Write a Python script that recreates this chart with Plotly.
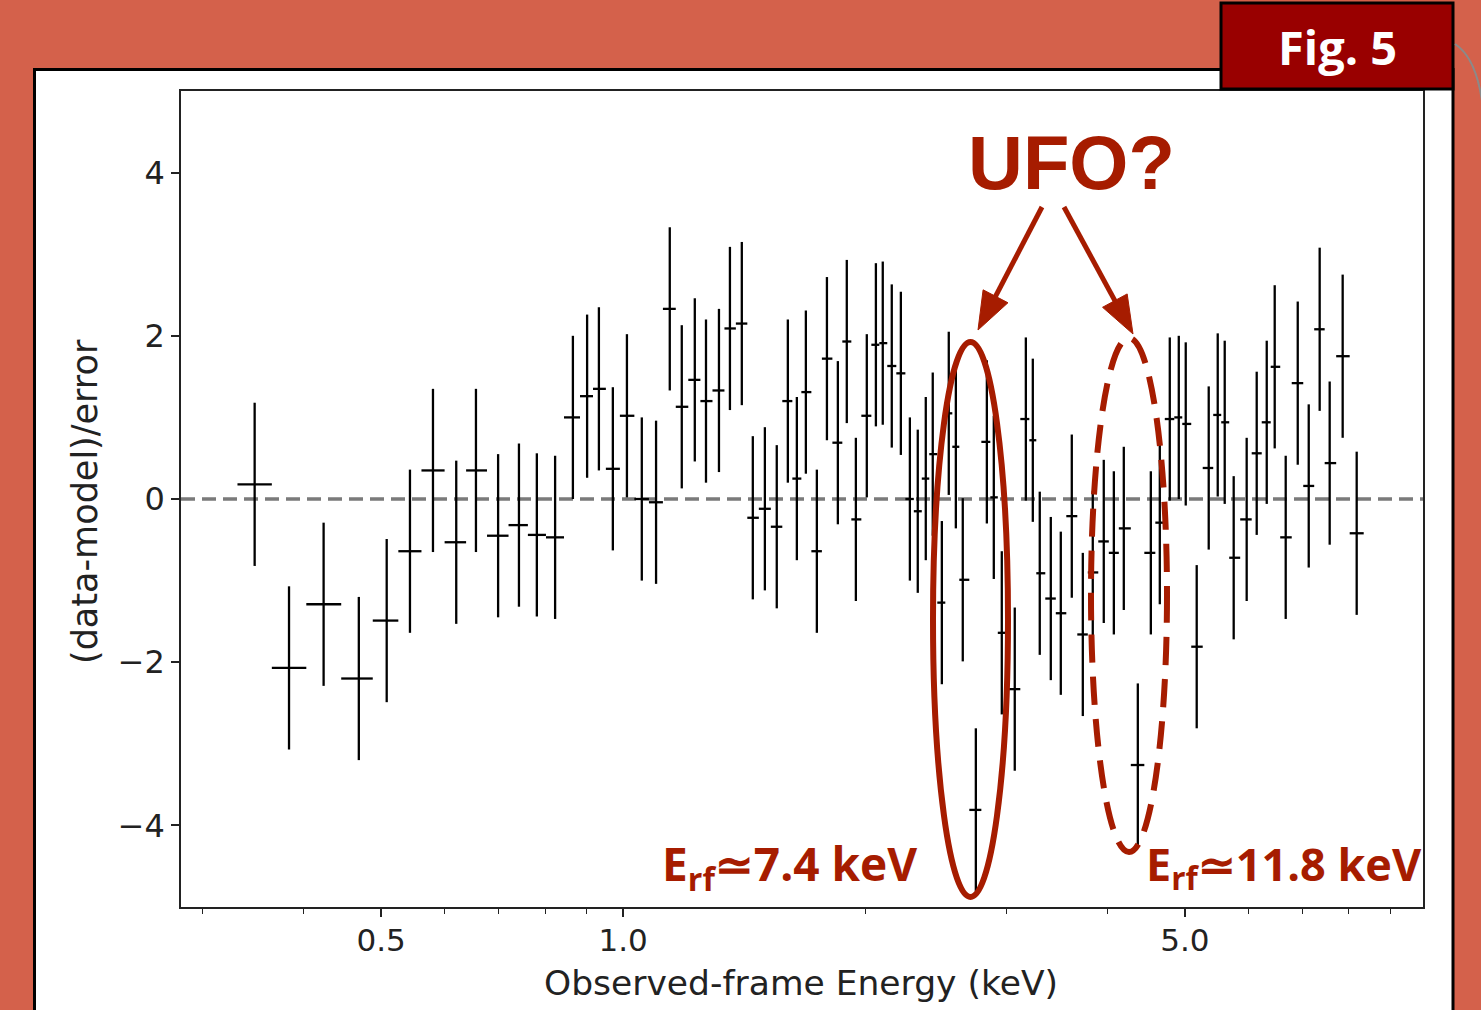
import numpy as np
import plotly.graph_objects as go

# ---- data ----
energy_keV = [0.348, 0.384, 0.424, 0.469, 0.508, 0.543, 0.580, 0.620, 0.656, 0.699,
              0.742, 0.781, 0.823, 0.866, 0.902, 0.933, 0.971, 1.011, 1.055, 1.099,
              1.143, 1.183, 1.228, 1.268, 1.316, 1.358, 1.405, 1.450, 1.501, 1.553,
              1.603, 1.645, 1.688, 1.742, 1.793, 1.850, 1.898, 1.948, 2.010, 2.063,
              2.104, 2.159, 2.216, 2.274, 2.326, 2.380, 2.428, 2.492, 2.542, 2.594,
              2.646, 2.747, 2.835, 2.892, 2.959, 3.071, 3.170, 3.234, 3.299, 3.405,
              3.504, 3.616, 3.732, 3.840, 3.963, 4.079, 4.197, 4.369, 4.535, 4.653,
              4.788, 4.913, 5.012, 5.172, 5.353, 5.493, 5.604, 5.750, 5.968, 6.142,
              6.321, 6.467, 6.674, 6.908, 7.129, 7.356, 7.570, 7.857, 8.179]

residual = [0.18, -2.07, -1.29, -2.20, -1.49, -0.64, 0.35, -0.53, 0.35, -0.45,
            -0.32, -0.44, -0.47, 1.00, 1.26, 1.35, 0.37, 1.02, 0.00, -0.04,
            2.33, 1.13, 1.46, 1.20, 1.33, 2.09, 2.15, -0.23, -0.12, -0.34,
            1.20, 0.25, 1.31, -0.64, 1.72, 0.69, 1.93, -0.25, 1.02, 1.89,
            1.91, 1.63, 1.54, 0.00, -0.15, 0.25, 0.55, -1.27, 1.05, 0.64,
            -0.99, -3.81, 0.70, 0.02, -1.64, -2.33, 0.98, 0.72, -0.91, -1.22,
            -1.40, -0.21, -1.66, -0.90, -0.52, -0.66, -0.36, -3.26, -0.66, -0.29,
            0.98, 1.00, 0.92, -1.81, 0.38, 1.03, 0.94, -0.72, -0.25, 0.56,
            0.94, 1.62, -0.47, 1.42, 0.16, 2.08, 0.44, 1.75, -0.42]

residual_error = 1.0   # (data-model)/error -> unit error bars

x_major_ticks = [0.5, 1.0, 5.0]
x_major_labels = ["0.5", "1.0", "5.0"]
x_minor_ticks = [0.3, 0.4, 0.6, 0.7, 0.8, 0.9, 2, 3, 4, 6, 7, 8, 9]
y_ticks = [-4, -2, 0, 2, 4]

x_title = "Observed-frame Energy (keV)"
y_title = "(data-model)/error"
line1_label = "E<sub>rf</sub>≃7.4 keV"
line2_label = "E<sub>rf</sub>≃11.8 keV"
question_label = "UFO?"
fig_label = "Fig. 5"

# ---- contiguous energy bins (edges halfway between centres in log space) ----
logE = np.log10(np.array(energy_keV))
mids = (logE[:-1] + logE[1:]) / 2
lo = np.concatenate([[2 * logE[0] - mids[0]], mids])
hi = np.concatenate([mids, [2 * logE[-1] - mids[-1]]])
E = np.array(energy_keV)
xerr_minus = E - 10 ** lo
xerr_plus = 10 ** hi - E

# ---- page geometry (pixels) ----
W, H = 1481, 1010
L, R, T, B = 181, 1423, 91, 907


def px(xp):
    return (xp - L) / (R - L)


def py(yp):
    return (B - yp) / (B - T)


BG = "#D4614B"
RED = "#A61C00"
DARKRED = "#990000"


def arrow_shapes(tail, tip, color, width=5, head_len=38, head_half=14):
    tx, ty = tail
    hx, hy = tip
    dx, dy = hx - tx, hy - ty
    n = (dx ** 2 + dy ** 2) ** 0.5
    ux, uy = dx / n, dy / n
    bx, by = hx - head_len * ux, hy - head_len * uy
    nx, ny = -uy, ux
    c1 = (bx + head_half * nx, by + head_half * ny)
    c2 = (bx - head_half * nx, by - head_half * ny)
    line = dict(type="line", xref="paper", yref="paper",
                x0=px(tx), y0=py(ty), x1=px(bx + 4 * ux), y1=py(by + 4 * uy),
                line=dict(color=color, width=width), layer="above")
    head = dict(type="path", xref="paper", yref="paper",
                path=f"M {px(hx)},{py(hy)} L {px(c1[0])},{py(c1[1])} L {px(c2[0])},{py(c2[1])} Z",
                fillcolor=color, line=dict(color=color, width=1), layer="above")
    return [line, head]


fig = go.Figure()
fig.add_trace(go.Scatter(
    x=energy_keV, y=residual, mode="markers",
    marker=dict(size=1, color="black", opacity=0),
    error_y=dict(type="constant", value=residual_error, width=0, thickness=2.3, color="black"),
    error_x=dict(type="data", symmetric=False, array=xerr_plus, arrayminus=xerr_minus,
                 width=0, thickness=2.3, color="black"),
    showlegend=False, hoverinfo="skip",
))

shapes = [
    # white panel
    dict(type="rect", xref="paper", yref="paper", x0=px(34.5), x1=px(1453), y0=py(1030), y1=py(69.5),
         fillcolor="white", line=dict(color="black", width=3), layer="below"),
    # zero line
    dict(type="line", xref="paper", yref="y", x0=0, x1=1, y0=0, y1=0,
         line=dict(color="#7a7a7a", width=3.5, dash="14px,7px"), layer="below"),
    # solid ellipse
    dict(type="circle", xref="paper", yref="paper", x0=px(933), x1=px(1008), y0=py(897), y1=py(342),
         line=dict(color=RED, width=6), layer="above"),
    # dashed ellipse
    dict(type="circle", xref="paper", yref="paper", x0=px(1091), x1=px(1167), y0=py(852), y1=py(338),
         line=dict(color=RED, width=6, dash="28px,14px"), layer="above"),
    # Fig. box
    dict(type="rect", xref="paper", yref="paper", x0=px(1221), x1=px(1453), y0=py(89), y1=py(3),
         fillcolor=DARKRED, line=dict(color="black", width=3), layer="above"),
    # curved edge at the right
    dict(type="path", xref="paper", yref="paper",
         path=f"M {px(1455)},{py(44)} Q {px(1477)},{py(58)} {px(1483)},{py(108)}",
         line=dict(color="#8a8a8a", width=2), layer="above"),
]
shapes += arrow_shapes((1042, 207), (978, 330), RED)
shapes += arrow_shapes((1064, 207), (1133, 334), RED)

annotations = [
    dict(xref="paper", yref="paper", x=px(85), y=py(502), text=y_title, textangle=-90,
         showarrow=False, font=dict(family="DejaVu Sans", size=35, color="#222222"),
         xanchor="center", yanchor="middle"),
    dict(xref="paper", yref="paper", x=px(801), y=py(983), text=x_title,
         showarrow=False, font=dict(family="DejaVu Sans", size=34.5, color="#222222"),
         xanchor="center", yanchor="middle"),
    dict(xref="paper", yref="paper", x=px(1071), y=py(162), text=f"<b>{question_label}</b>",
         showarrow=False, font=dict(family="Liberation Sans", size=76, color=RED),
         xanchor="center", yanchor="middle"),
    dict(xref="paper", yref="paper", x=px(660), y=py(866), text=f"<b>{line1_label}</b>",
         showarrow=False, font=dict(family="Open Sans", size=46, color=RED),
         xanchor="left", yanchor="middle"),
    dict(xref="paper", yref="paper", x=px(1144), y=py(866), text=f"<b>{line2_label}</b>",
         showarrow=False, font=dict(family="Open Sans", size=45, color=RED),
         xanchor="left", yanchor="middle"),
    dict(xref="paper", yref="paper", x=px(1337), y=py(47), text=f"<b>{fig_label}</b>",
         showarrow=False, font=dict(family="Open Sans", size=47, color="white"),
         xanchor="center", yanchor="middle"),
]

fig.update_layout(
    width=W, height=H,
    margin=dict(l=L, r=W - R, t=T, b=H - B),
    paper_bgcolor=BG, plot_bgcolor="rgba(0,0,0,0)",
    shapes=shapes, annotations=annotations,
    showlegend=False,
)
fig.update_xaxes(
    type="log", range=[np.log10(0.2818), np.log10(9.89)],
    tickvals=x_major_ticks, ticktext=x_major_labels,
    ticks="outside", ticklen=8, tickwidth=1.5, tickcolor="#222222",
    minor=dict(tickvals=x_minor_ticks, ticks="outside", ticklen=5, tickwidth=1.2, tickcolor="#222222"),
    showline=True, linecolor="#222222", linewidth=1.5, mirror=True,
    showgrid=False, zeroline=False, ticklabelstandoff=-3,
    tickfont=dict(family="DejaVu Sans", size=31, color="#222222"),
)
fig.update_yaxes(
    range=[-5, 5], tickvals=y_ticks,
    ticks="outside", ticklen=8, tickwidth=1.5, tickcolor="#222222",
    showline=True, linecolor="#222222", linewidth=1.5, mirror=True,
    showgrid=False, zeroline=False,
    tickfont=dict(family="DejaVu Sans", size=32, color="#222222"),
)

fig.write_html("out.html")
